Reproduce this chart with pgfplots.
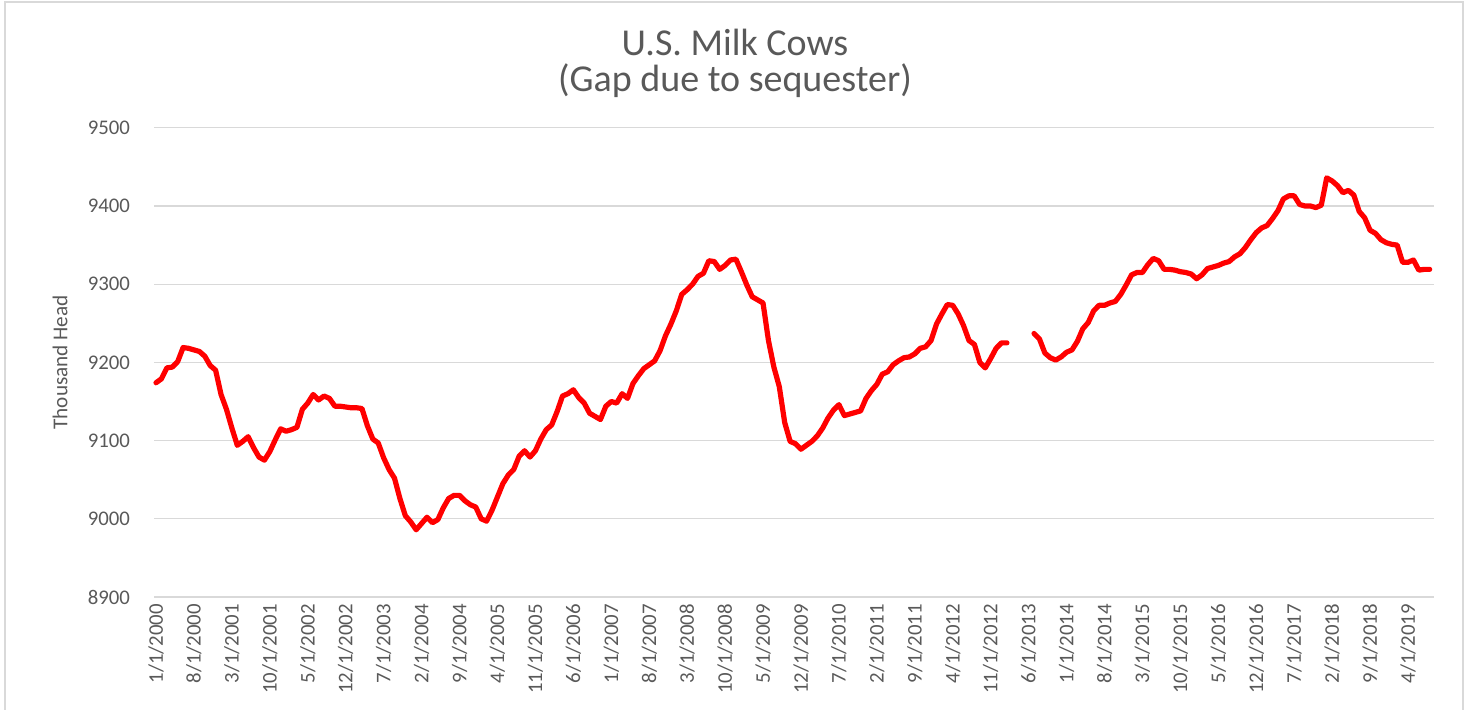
\documentclass[border=0pt]{standalone}
\usepackage{fontspec}
\setmainfont{Carlito}
\usepackage{pgfplots}
\pgfplotsset{compat=1.18}
\usepackage{pgfplotstable}
\definecolor{txt}{HTML}{595959}
\definecolor{grd}{HTML}{D9D9D9}
\definecolor{frm}{HTML}{D9D9D9}

\pgfplotstableread{
m v
0 9174
1 9179
2 9193
3 9194
4 9201
5 9219
6 9218
7 9216
8 9214
9 9208
10 9196
11 9190
12 9159
13 9140
14 9116
15 9094
16 9099
17 9105
18 9091
19 9079
20 9075
21 9086
22 9101
23 9115
24 9112
25 9114
26 9117
27 9140
28 9148
29 9159
30 9152
31 9157
32 9154
33 9144
34 9144
35 9143
36 9142
37 9142
38 9141
39 9119
40 9102
41 9097
42 9078
43 9063
44 9052
45 9026
46 9004
47 8996
48 8986
49 8994
50 9002
51 8995
52 8999
53 9014
54 9026
55 9030
56 9030
57 9023
58 9018
59 9015
60 9000
61 8997
62 9011
63 9028
64 9045
65 9056
66 9063
67 9080
68 9087
69 9079
70 9087
71 9102
72 9114
73 9120
74 9137
75 9157
76 9160
77 9165
78 9155
79 9148
80 9135
81 9131
82 9127
83 9144
84 9150
85 9148
86 9160
87 9154
88 9173
89 9183
90 9192
91 9197
92 9202
93 9215
94 9234
95 9249
96 9266
97 9287
98 9293
99 9300
100 9310
101 9314
102 9330
103 9329
104 9319
105 9324
106 9331
107 9332
108 9316
109 9299
110 9284
111 9280
112 9276
113 9228
114 9194
115 9169
116 9123
117 9099
118 9096
119 9089
120 9094
121 9099
122 9106
123 9116
124 9129
125 9139
126 9146
127 9132
128 9134
129 9136
130 9138
131 9154
132 9164
133 9172
134 9185
135 9188
136 9197
137 9202
138 9206
139 9207
140 9211
141 9218
142 9220
143 9228
144 9249
145 9262
146 9274
147 9273
148 9262
149 9247
150 9228
151 9223
152 9200
153 9193
154 9205
155 9218
156 9225
157 9225
158 nan
159 nan
160 nan
161 nan
162 9237
163 9230
164 9212
165 9206
166 9203
167 9207
168 9213
169 9216
170 9227
171 9243
172 9251
173 9266
174 9273
175 9273
176 9276
177 9278
178 9287
179 9299
180 9312
181 9315
182 9315
183 9325
184 9333
185 9330
186 9319
187 9319
188 9318
189 9316
190 9315
191 9313
192 9307
193 9312
194 9320
195 9322
196 9324
197 9327
198 9329
199 9335
200 9339
201 9347
202 9357
203 9366
204 9372
205 9375
206 9384
207 9394
208 9409
209 9413
210 9413
211 9402
212 9400
213 9400
214 9398
215 9401
216 9436
217 9432
218 9426
219 9417
220 9420
221 9414
222 9393
223 9385
224 9369
225 9365
226 9357
227 9353
228 9351
229 9350
230 9328
231 9328
232 9331
233 9318
234 9319
235 9319
}\milk

\begin{document}
\begin{tikzpicture}[x=1pt,y=1pt]
\useasboundingbox (0,0) rectangle (735,354.5);
\draw[frm, line width=0.75pt] (2.5,-5) -- (2.5,353.5) -- (731.5,353.5) -- (731.5,-5);
\begin{axis}[
  at={(77pt,56pt)}, anchor=south west,
  scale only axis, width=640pt, height=234.6pt,
  xmin=-0.37, xmax=235.8, ymin=8900, ymax=9500,
  ytick={8900,9000,...,9500},
  xtick={0,7,...,231},
  xticklabels={1/1/2000,8/1/2000,3/1/2001,10/1/2001,5/1/2002,12/1/2002,7/1/2003,2/1/2004,9/1/2004,4/1/2005,11/1/2005,6/1/2006,1/1/2007,8/1/2007,3/1/2008,10/1/2008,5/1/2009,12/1/2009,7/1/2010,2/1/2011,9/1/2011,4/1/2012,11/1/2012,6/1/2013,1/1/2014,8/1/2014,3/1/2015,10/1/2015,5/1/2016,12/1/2016,7/1/2017,2/1/2018,9/1/2018,4/1/2019},
  x tick label style={rotate=90, anchor=east, font=\fontsize{10.4}{12}\selectfont, text=txt},
  y tick label style={font=\fontsize{10.4}{12}\selectfont, text=txt, xshift=-8.5pt},
  major tick length=0pt,
  axis line style={draw=none},
  ymajorgrids, grid style={grd, line width=0.6pt},
  /pgf/number format/assume math mode=true,
  /pgf/number format/set thousands separator={},
  ylabel={Thousand Head},
  ylabel style={at={(axis description cs:-0.0734,0.5)}, anchor=center, rotate=0, font=\fontsize{10.6}{12}\selectfont, text=txt},
  unbounded coords=jump,
  clip=false,
]
\addplot[color=red, line width=2.6pt, line join=round, line cap=round, mark=none] table[x=m,y=v]{\milk};
\end{axis}
\node[text=txt, font=\fontsize{19}{22}\selectfont] at (367.5,333.5) {U.S. Milk Cows};
\node[text=txt, font=\fontsize{19}{22}\selectfont] at (367.5,314) {(Gap due to sequester)};
\end{tikzpicture}
\end{document}
